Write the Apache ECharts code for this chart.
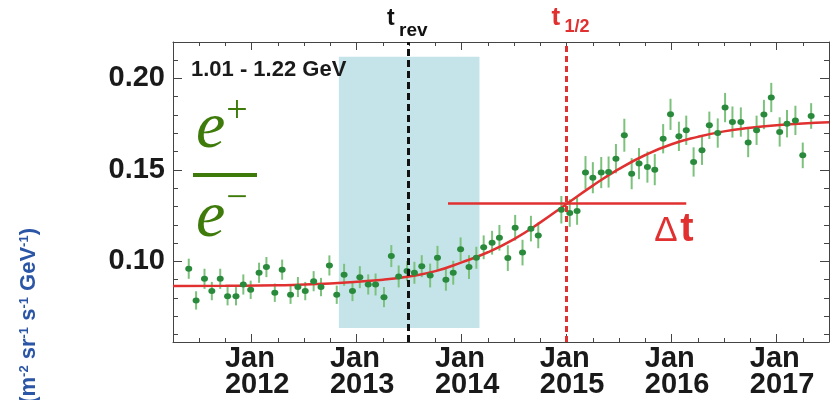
<!DOCTYPE html>
<html><head><meta charset="utf-8">
<script src="https://cdn.jsdelivr.net/npm/echarts@6/dist/echarts.min.js"></script>
<style>html,body{margin:0;padding:0;background:#fff}#c{width:833px;height:400px}</style>
</head><body><div id="c"></div>
<script>
// ---- data ----
const dates = [2011.40,2011.47,2011.55,2011.62,2011.70,2011.77,2011.85,2011.92,2011.99,2012.07,
  2012.14,2012.22,2012.29,2012.37,2012.44,2012.51,2012.59,2012.66,2012.74,2012.81,
  2012.88,2012.96,2013.03,2013.11,2013.18,2013.26,2013.33,2013.40,2013.48,2013.55,
  2013.62,2013.70,2013.77,2013.85,2013.92,2013.99,2014.07,2014.14,2014.21,2014.29,2014.36,
  2014.44,2014.51,2014.58,2014.66,2014.73,
  2014.95,2015.03,2015.10,
  2015.18,2015.25,2015.33,2015.40,2015.47,2015.55,2015.62,2015.69,2015.77,2015.84,
  2015.92,2015.99,2016.07,2016.14,2016.21,2016.29,2016.36,2016.44,2016.51,2016.58,
  2016.66,2016.73,2016.81,2016.88,2016.95,2017.03,2017.10,2017.18,2017.25,2017.33];
const ratio = [0.0960,0.0787,0.0905,0.0838,0.0905,0.0810,0.0810,0.0874,0.0845,0.0938,
  0.0969,0.0829,0.0955,0.0818,0.0860,0.0838,0.0892,0.0860,0.0978,0.0818,
  0.0927,0.0838,0.0914,0.0874,0.0874,0.0805,0.1029,0.0918,0.0947,0.0938,
  0.0974,0.0923,0.1020,0.0900,0.0938,0.1066,0.0969,0.1020,0.1077,0.1102,0.1129,
  0.1018,0.1184,0.1048,0.1179,0.1142,
  0.1282,0.1264,0.1275,
  0.1485,0.1457,0.1485,0.1488,0.1561,0.1689,0.1479,0.1534,0.1515,0.1501,
  0.1670,0.1803,0.1683,0.1716,0.1543,0.1607,0.1743,0.1701,0.1840,0.1761,
  0.1761,0.1649,0.1716,0.1802,0.1895,0.1707,0.1752,0.1770,0.1579,0.1794];
const errs = [0.0055,0.0050,0.0055,0.0050,0.0055,0.0050,0.0050,0.0055,0.0050,0.0055,
  0.0055,0.0050,0.0055,0.0050,0.0055,0.0050,0.0055,0.0050,0.0055,0.0050,
  0.0060,0.0055,0.0060,0.0055,0.0060,0.0055,0.0060,0.0060,0.0055,0.0060,
  0.0060,0.0065,0.0065,0.0060,0.0065,0.0065,0.0065,0.0060,0.0065,0.0065,0.0070,
  0.0070,0.0070,0.0070,0.0070,0.0070,
  0.0075,0.0075,0.0075,
  0.0090,0.0085,0.0085,0.0085,0.0080,0.0090,0.0085,0.0085,0.0085,0.0085,
  0.0080,0.0085,0.0080,0.0080,0.0080,0.0080,0.0075,0.0080,0.0080,0.0085,
  0.0080,0.0080,0.0080,0.0080,0.0080,0.0080,0.0075,0.0080,0.0070,0.0070];
const fitYears = [2011.25,2011.75,2012.25,2012.75,2013.25,2013.5,2013.75,2014.0,2014.25,2014.5,2014.75,
  2015.0,2015.25,2015.5,2015.75,2016.0,2016.25,2016.5,2016.75,2017.0,2017.25,2017.5];
const fitValues = [0.0866,0.0867,0.0870,0.0879,0.0900,0.0918,0.0947,0.0995,0.1050,0.1122,0.1213,
  0.1314,0.1414,0.1505,0.1581,0.1640,0.1680,0.1710,0.1730,0.1744,0.1753,0.1760];
const yearTicks = [2012,2013,2014,2015,2016,2017];
const yTickLabels = [0.10,0.15,0.20];
const tRev = 2013.49, tHalf = 2015.0;
const shadeX = [2012.83, 2014.17], shadeY = [0.0636, 0.2118];
const deltaT = [2013.87, 2016.14], deltaLevel = 0.1315;
const energyLabel = '1.01 - 1.22 GeV';

// ---- chart ----
const xMin = 2011.25, xMax = 2017.5, yMin = 0.056, yMax = 0.2198;
const quarterTicks = []; for (let q = xMin; q <= xMax + 1e-6; q += 0.25) quarterTicks.push(+q.toFixed(2));
const yMinor = []; for (let v = 0.06; v <= 0.21 + 1e-9; v += 0.01) yMinor.push(+v.toFixed(2));
const FONT = '"Liberation Sans", Arial, sans-serif';
const AX = '#444';
const RED = '#e03030';

function mkAxis(pos, min, max, ticks, len, showLine, label) {
  return {
    type: 'value', position: pos, min: min, max: max, scale: true,
    axisLine: {show: showLine, onZero: false, lineStyle: {color: AX, width: 1}},
    axisTick: {show: true, inside: true, length: len, customValues: ticks, lineStyle: {color: AX, width: 1}},
    axisLabel: label || {show: false},
    splitLine: {show: false}, minorTick: {show: false}, minorSplitLine: {show: false}
  };
}

const labelTok = {fontSize: 29, fontWeight: 'bold', fontFamily: FONT, color: '#1a1a1a', lineHeight: 26};
const xLabel = {
  show: true, customValues: yearTicks, margin: 4, align: 'center',
  formatter: v => `{p| }{a|Jan}{q| }\n{p| }{a|${v}}`,
  rich: {
    p: {width: 11, fontSize: 29, lineHeight: 26},
    q: {width: 14.5, fontSize: 29, lineHeight: 26},
    a: labelTok
  }
};
const yLabel = {
  show: true, customValues: yTickLabels, margin: 8,
  formatter: v => v.toFixed(2),
  fontSize: 29, fontWeight: 'bold', fontFamily: FONT, color: '#1a1a1a'
};

const errData = dates.map((d, i) => [d, ratio[i] - errs[i], ratio[i] + errs[i]]);

const option = {
  animation: false,
  backgroundColor: '#fff',
  grid: {left: 173, top: 42, right: 4, bottom: 58, containLabel: false, outerBoundsMode: 'none'},
  xAxis: [
    mkAxis('bottom', xMin, xMax, yearTicks, 8, true, xLabel),
    mkAxis('bottom', xMin, xMax, quarterTicks, 4, false),
    mkAxis('top', xMin, xMax, yearTicks, 8, true),
    mkAxis('top', xMin, xMax, quarterTicks, 4, false)
  ],
  yAxis: [
    mkAxis('left', yMin, yMax, yTickLabels, 9, true, yLabel),
    mkAxis('left', yMin, yMax, yMinor, 5, false),
    mkAxis('right', yMin, yMax, yTickLabels, 9, true),
    mkAxis('right', yMin, yMax, yMinor, 5, false)
  ],
  series: [
    {
      type: 'scatter', name: 'shade', data: [], z: 0, silent: true,
      markArea: {silent: true, itemStyle: {color: '#c5e4ea', opacity: 1},
        data: [[{coord: [shadeX[0], shadeY[0]]}, {coord: [shadeX[1], shadeY[1]]}]]}
    },
    {
      type: 'custom', name: 'err', data: errData, encode: {x: 0, y: [1, 2]}, z: 2, silent: true,
      renderItem: (params, api) => {
        const x = api.value(0);
        const lo = api.coord([x, api.value(1)]);
        const hi = api.coord([x, api.value(2)]);
        return {type: 'line', shape: {x1: lo[0], y1: lo[1], x2: hi[0], y2: hi[1]},
          style: {stroke: '#7cc27c', lineWidth: 2}};
      }
    },
    {
      type: 'line', name: 'fit', data: fitYears.map((x, i) => [x, fitValues[i]]),
      smooth: 0.5, showSymbol: false, silent: true,
      lineStyle: {color: RED, width: 2.5}, z: 3
    },
    {
      type: 'scatter', name: 'ratio', data: dates.map((x, i) => [x, ratio[i]]),
      symbol: 'circle', symbolSize: [7, 6], itemStyle: {color: '#2a8a3c', opacity: 1}, z: 4, silent: true
    },
    {
      type: 'line', name: 'markers', data: [], z: 5, silent: true,
      markLine: {
        silent: true, symbol: ['none', 'none'], label: {show: false},
        data: [
          {xAxis: tRev, lineStyle: {color: '#111', type: [7, 4], width: 3}},
          {xAxis: tHalf, lineStyle: {color: RED, type: [6, 4], width: 3}},
          [{coord: [deltaT[0], deltaLevel], lineStyle: {color: RED, type: 'solid', width: 2.5}},
           {coord: [deltaT[1], deltaLevel]}]
        ]
      }
    }
  ]
};

const chart = echarts.init(document.getElementById('c'));
chart.setOption(option);

const pRev = chart.convertToPixel({gridIndex: 0}, [tRev, yMax]);
const pHalf = chart.convertToPixel({gridIndex: 0}, [tHalf, yMax]);
const pEnd = chart.convertToPixel({gridIndex: 0}, [deltaT[1], deltaLevel]);
const pTL = chart.convertToPixel({gridIndex: 0}, [xMin, yMax]);
const GREEN = '#3e7b0b';
const SERIF = '"Liberation Serif", "Times New Roman", serif';

function txt(x, y, text, font, fill, align) {
  return {type: 'text', x: x, y: y, z: 100, silent: true,
    style: {text: text, font: font, fill: fill, align: align || 'left', verticalAlign: 'middle'}};
}

chart.setOption({
  graphic: [
    // t_rev label
    txt(pRev[0] - 21, 27 - 0.35 * 23, 't', 'bold 23px ' + FONT, '#111'),
    txt(pRev[0] - 9, 37 - 0.35 * 19, 'rev', 'bold 19px ' + FONT, '#111'),
    // t_1/2 label
    txt(pHalf[0] - 15, 27 - 0.35 * 26, 't', 'bold 26px ' + FONT, RED),
    txt(pHalf[0] - 2, 33 - 0.35 * 18, '1/2', 'bold 18px ' + FONT, RED),
    // Delta t
    txt(pEnd[0] - 32, pEnd[1] + 40 - 0.35 * 35, 'Δ', '35px ' + FONT, RED),
    txt(pEnd[0] - 6, pEnd[1] + 40 - 0.35 * 40, 't', 'bold 40px ' + FONT, RED),
    // energy range
    txt(pTL[0] + 18, pTL[1] + 36 - 0.35 * 22, energyLabel, 'bold 22px ' + FONT, '#1a1a1a'),
    // e+/e- fraction
    txt(pTL[0] + 23, pTL[1] + 110 - 0.3375 * 66, 'e', 'italic 66px ' + SERIF, GREEN),
    txt(pTL[0] + 64, pTL[1] + 70, '+', '38px ' + SERIF, GREEN, 'center'),
    {type: 'rect', z: 100, silent: true, shape: {x: pTL[0] + 20, y: pTL[1] + 131, width: 64, height: 4}, style: {fill: GREEN}},
    txt(pTL[0] + 23, pTL[1] + 199 - 0.3375 * 66, 'e', 'italic 66px ' + SERIF, GREEN),
    txt(pTL[0] + 64, pTL[1] + 157, '\u2212', '38px ' + SERIF, GREEN, 'center'),
    // y axis title (cut off at the bottom edge)
    {type: 'text', x: 29, y: 228, rotation: Math.PI / 2, z: 100, silent: true,
      style: {
        text: '{b|(m}{s|-2}{b| sr}{s|-1}{b| s}{s|-1}{b| GeV}{s|-1}{b|)}',
        align: 'right', verticalAlign: 'middle', fill: '#2b55a5',
        rich: {
          b: {fontSize: 22, fontWeight: 'bold', fontFamily: FONT, fill: '#2b55a5', lineHeight: 23},
          s: {fontSize: 13, fontWeight: 'bold', fontFamily: FONT, fill: '#2b55a5', lineHeight: 13, verticalAlign: 'top'}
        }
      }}
  ]
});
</script>
</body></html>
